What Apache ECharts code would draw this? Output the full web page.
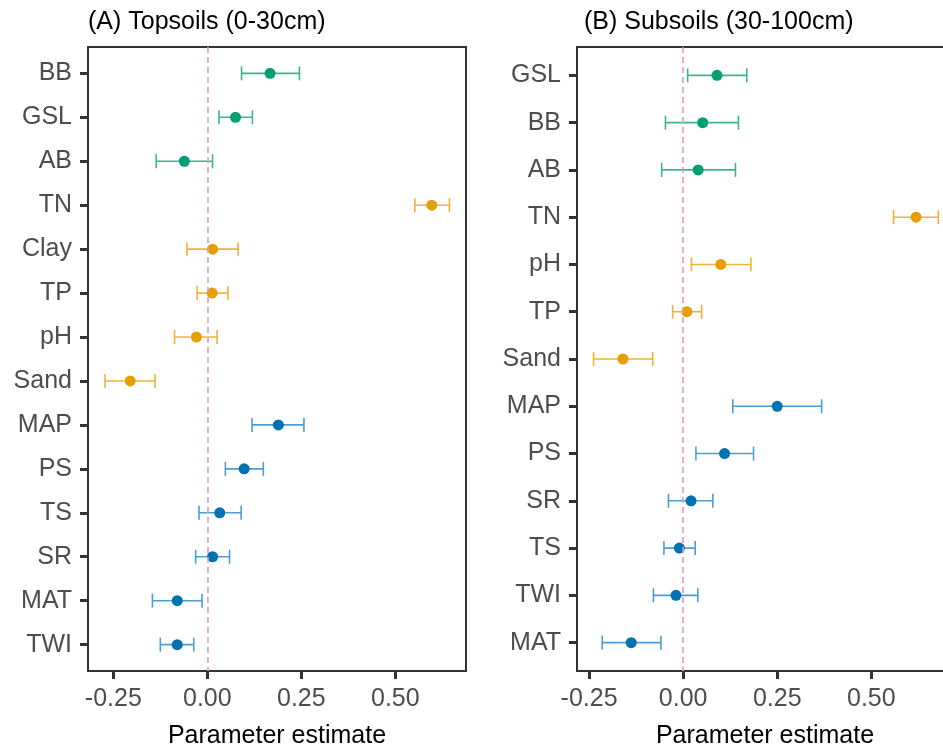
<!DOCTYPE html>
<html>
<head>
<meta charset="utf-8">
<script src="https://cdn.jsdelivr.net/npm/echarts@6/dist/echarts.min.js"></script>
<style>
  html, body { margin: 0; padding: 0; background: #fff; }
  #chart { width: 943px; height: 749px; }
</style>
</head>
<body>
<div id="chart"></div>
<script>
// (A) topsoils
const topCats = ['BB', 'GSL', 'AB', 'TN', 'Clay', 'TP', 'pH', 'Sand', 'MAP', 'PS', 'TS', 'SR', 'MAT', 'TWI'];
const topEst  = [0.167, 0.075, -0.061, 0.597, 0.014, 0.013, -0.029, -0.205, 0.189, 0.098, 0.033, 0.014, -0.080, -0.080];
const topLow  = [0.091, 0.031, -0.136, 0.552, -0.054, -0.027, -0.087, -0.272, 0.119, 0.048, -0.022, -0.031, -0.146, -0.125];
const topHigh = [0.245, 0.120, 0.014, 0.644, 0.082, 0.055, 0.026, -0.139, 0.257, 0.149, 0.090, 0.059, -0.014, -0.036];
const topGroup = ['veg', 'veg', 'veg', 'soil', 'soil', 'soil', 'soil', 'soil', 'clim', 'clim', 'clim', 'clim', 'clim', 'clim'];

// (B) subsoils
const subCats = ['GSL', 'BB', 'AB', 'TN', 'pH', 'TP', 'Sand', 'MAP', 'PS', 'SR', 'TS', 'TWI', 'MAT'];
const subEst  = [0.090, 0.052, 0.040, 0.619, 0.100, 0.010, -0.160, 0.250, 0.110, 0.021, -0.010, -0.019, -0.138];
const subLow  = [0.012, -0.047, -0.057, 0.559, 0.022, -0.028, -0.238, 0.132, 0.034, -0.039, -0.051, -0.079, -0.215];
const subHigh = [0.169, 0.147, 0.139, 0.678, 0.180, 0.049, -0.081, 0.368, 0.187, 0.079, 0.032, 0.039, -0.059];
const subGroup = ['veg', 'veg', 'veg', 'soil', 'soil', 'soil', 'soil', 'clim', 'clim', 'clim', 'clim', 'clim', 'clim'];

const xTicks = [-0.25, 0, 0.25, 0.5];
const titles = ['(A) Topsoils (0-30cm)', '(B) Subsoils (30-100cm)'];

const pointColor = { veg: '#009E73', soil: '#E69F00', clim: '#0072B2' };
const barColor = { veg: '#3DB58E', soil: '#F0B23A', clim: '#4A9FD4' };

const font = 'Liberation Sans, Arial, sans-serif';

function range(n) {
  let a = [];
  for (let i = 0; i < n; i++) a.push(i);
  return a;
}

function yAxisFor(idx, cats) {
  const vals = range(cats.length);
  return {
    type: 'value',
    gridIndex: idx,
    inverse: true,
    min: -0.6,
    max: cats.length - 1 + 0.6,
    splitLine: { show: false },
    axisLine: { show: true, onZero: false, lineStyle: { color: '#333', width: 2 } },
    axisTick: { show: true, customValues: vals, length: 8, lineStyle: { color: '#333', width: 3 } },
    axisLabel: {
      customValues: vals,
      formatter: v => cats[v],
      margin: 16,
      color: '#4D4D4D',
      fontSize: 25,
      fontFamily: font
    }
  };
}

function xAxisFor(idx, min, max) {
  return {
    type: 'value',
    gridIndex: idx,
    min: min,
    max: max,
    splitLine: { show: false },
    axisLine: { show: true, onZero: false, lineStyle: { color: '#333', width: 2 } },
    axisTick: { show: true, customValues: xTicks, length: 8, lineStyle: { color: '#333', width: 3 } },
    axisLabel: {
      customValues: xTicks,
      formatter: v => v.toFixed(2),
      margin: 16,
      color: '#4D4D4D',
      fontSize: 25,
      fontFamily: font
    },
    name: 'Parameter estimate',
    nameLocation: 'middle',
    nameGap: 53,
    nameTextStyle: { color: '#000', fontSize: 25, fontFamily: font }
  };
}

function barSeries(idx, low, high, group) {
  return {
    type: 'custom',
    xAxisIndex: idx,
    yAxisIndex: idx,
    z: 2,
    encode: { x: [0, 1], y: 2 },
    data: low.map((l, i) => [l, high[i], i]),
    renderItem: function (params, api) {
      const a = api.coord([api.value(0), api.value(2)]);
      const b = api.coord([api.value(1), api.value(2)]);
      const g = group[params.dataIndex];
      const style = { stroke: barColor[g], lineWidth: 1.6 };
      const h = 7;
      return {
        type: 'group',
        children: [
          { type: 'line', shape: { x1: a[0], y1: a[1], x2: b[0], y2: b[1] }, style: style },
          { type: 'line', shape: { x1: a[0], y1: a[1] - h, x2: a[0], y2: a[1] + h }, style: style },
          { type: 'line', shape: { x1: b[0], y1: b[1] - h, x2: b[0], y2: b[1] + h }, style: style }
        ]
      };
    },
    markLine: {
      silent: true,
      symbol: 'none',
      label: { show: false },
      lineStyle: { color: '#DB9BC2', type: [6, 4], width: 1.6 },
      data: [{ xAxis: 0 }]
    }
  };
}

function pointSeries(idx, est, group) {
  return {
    type: 'scatter',
    xAxisIndex: idx,
    yAxisIndex: idx,
    z: 3,
    symbolSize: 11,
    data: est.map((v, i) => ({ value: [v, i], itemStyle: { color: pointColor[group[i]], opacity: 1 } }))
  };
}

const chart = echarts.init(document.getElementById('chart'));
chart.setOption({
  backgroundColor: '#fff',
  animation: false,
  title: [
    { text: titles[0], left: 88, top: 10, padding: 0, textStyle: { fontSize: 25, fontWeight: 'normal', color: '#000', fontFamily: font } },
    { text: titles[1], left: 584, top: 10, padding: 0, textStyle: { fontSize: 25, fontWeight: 'normal', color: '#000', fontFamily: font } }
  ],
  grid: [
    { left: 88, top: 47, width: 378, height: 624, outerBoundsMode: 'none', show: true, borderColor: '#333', borderWidth: 2, backgroundColor: 'transparent' },
    { left: 577, top: 47, width: 376, height: 624, outerBoundsMode: 'none', show: true, borderColor: '#333', borderWidth: 2, backgroundColor: 'transparent' }
  ],
  xAxis: [
    xAxisFor(0, -0.3173, 0.688),
    xAxisFor(1, -0.282, 0.717)
  ],
  yAxis: [
    yAxisFor(0, topCats),
    yAxisFor(1, subCats)
  ],
  series: [
    barSeries(0, topLow, topHigh, topGroup),
    pointSeries(0, topEst, topGroup),
    barSeries(1, subLow, subHigh, subGroup),
    pointSeries(1, subEst, subGroup)
  ]
});
</script>
</body>
</html>
